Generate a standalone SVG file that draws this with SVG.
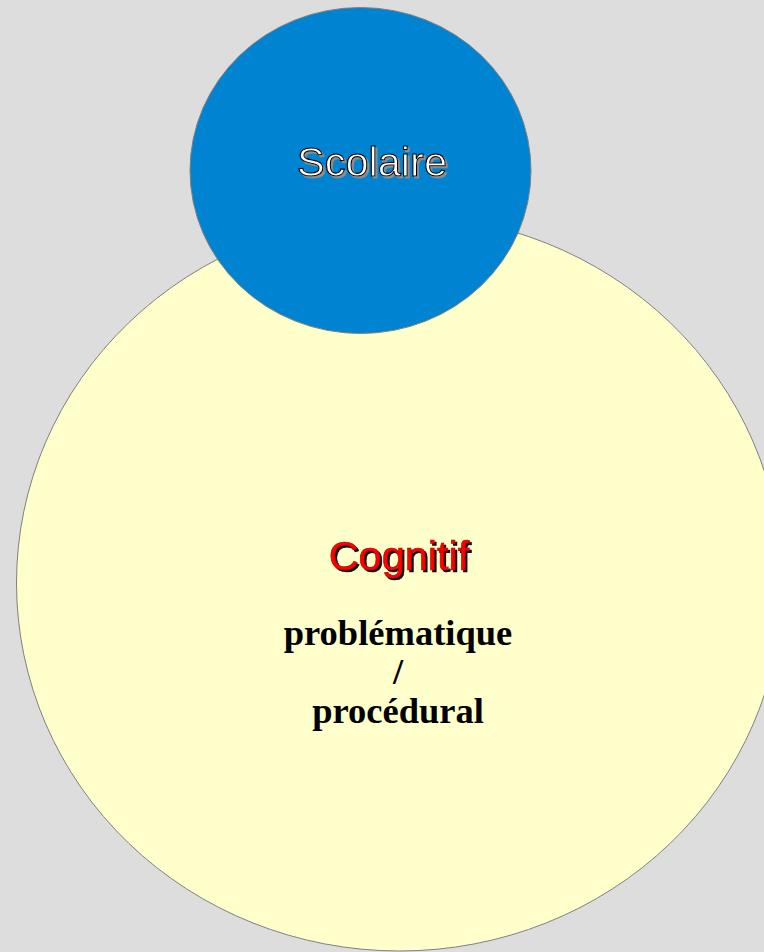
<svg xmlns="http://www.w3.org/2000/svg" width="764" height="952" viewBox="0 0 764 952">
<defs>
<filter id="shGray" x="-10%" y="-20%" width="130%" height="150%">
<feDropShadow dx="2" dy="2" stdDeviation="0" flood-color="#8c8c8c" flood-opacity="1"/>
</filter>
<filter id="shBlack" x="-10%" y="-20%" width="130%" height="150%">
<feDropShadow dx="2" dy="2" stdDeviation="0" flood-color="#000000" flood-opacity="1"/>
</filter>
</defs>
<style>
.shape{stroke:#808080;stroke-width:1}
.sans{font-family:"Liberation Sans",Arial,sans-serif;font-size:41.5px;text-anchor:middle}
.serif{font-family:"Liberation Serif","Times New Roman",serif;font-size:36.5px;font-weight:bold;text-anchor:middle;fill:#000}
</style>
<rect width="764" height="952" fill="#dddddd"/>
<g id="cognitif">
<ellipse class="shape" cx="399.5" cy="583" rx="383" ry="368" fill="#ffffcc"/>
<text class="sans" x="399" y="570" fill="#ff0000" stroke="#b00000" stroke-width="0.6" filter="url(#shBlack)">Cognitif</text>
<text class="serif" x="398" y="645">problématique</text>
<text class="serif" x="398" y="684">/</text>
<text class="serif" x="398" y="723">procédural</text>
</g>
<g id="scolaire">
<ellipse class="shape" cx="360.5" cy="170.5" rx="170.5" ry="163" fill="#0083d0"/>
<text class="sans" x="372" y="176" fill="#ffffff" stroke="#000" stroke-width="1.1" filter="url(#shGray)">Scolaire</text>
</g>
<g id="connectors"/>
</svg>
